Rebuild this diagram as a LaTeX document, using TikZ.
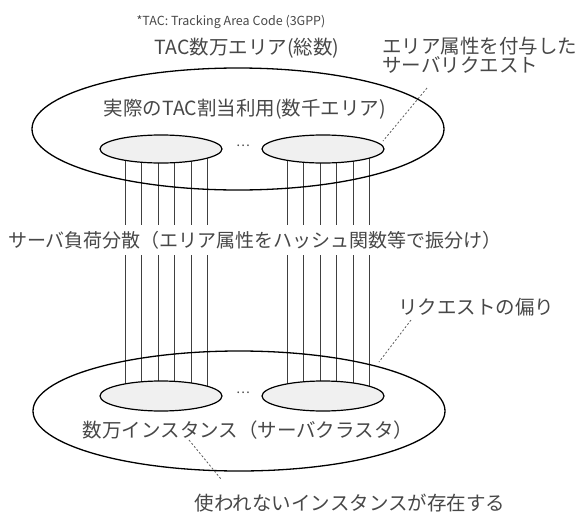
\documentclass[tikz,border=0pt]{standalone}
\usepackage{fontspec}
\setmainfont{Noto Sans CJK JP}
\usetikzlibrary{shapes.geometric,backgrounds}
\begin{document}
\begin{tikzpicture}[x=1pt,y=-1pt,
  big/.style={ellipse, draw=black, line width=1.3pt, inner sep=0pt, minimum width=412pt, minimum height=122pt},
  small/.style={ellipse, draw=black, line width=1.2pt, fill=black!6, inner sep=0pt, minimum width=122pt, minimum height=28pt},
  vline/.style={draw=black!75, line width=0.7pt},
  lead/.style={draw=black!65, line width=0.8pt, dash pattern=on 2pt off 2pt},
  lbl/.style={text=black!72, font=\fontsize{19.5}{18.5}\selectfont, inner sep=0pt, align=left},
]
\useasboundingbox (0,0) rectangle (582,520);
% big ellipses
\node[big] (topA) at (238,129) {};
\node[big, minimum height=120pt] (botA) at (239,411) {};
% small ellipses
\node[small] (tl) at (161,149) {};
\node[small] (tr) at (323,149) {};
\node[small, minimum height=30pt] (bl) at (161,396) {};
\node[small, minimum height=30pt] (br) at (323,396) {};
\coordinate (gapT) at (0,225);
\coordinate (gapB) at (0,255);
\begin{scope}[on background layer]
\foreach \n/\m in {tl/bl,tr/br}{
  \foreach \d in {-36,-19.5,-3,13.5,30,46.5}{
    \draw[vline] ([xshift=\d pt]\n.center) -- ([xshift=\d pt]\n.center |- gapT);
    \draw[vline] ([xshift=\d pt]\m.center |- gapB) -- ([xshift=\d pt]\m.center);
  }
}
\end{scope}
\node[text=black!72, font=\fontsize{13}{13}\selectfont, inner sep=0pt] (tdots) at (243,146) {…};
\node[text=black!72, font=\fontsize{13}{13}\selectfont, inner sep=0pt] (bdots) at (243,393) {…};
% texts
\node[text=black!72, font=\fontsize{12.5}{14}\selectfont, inner sep=0pt] (note) at (231,22) {*TAC: Tracking Area Code (3GPP)};
\node[lbl] (total) at (247,48) {TAC数万エリア(総数)};
\node[lbl, anchor=west] (req) at (382,55) {エリア属性を付与した\\サーバリクエスト};
\node[lbl] (used) at (245,109) {実際のTAC割当利用(数千エリア)};
\node[lbl, font=\fontsize{19}{19}\selectfont] (lb) at (255,240) {サーバ負荷分散（エリア属性をハッシュ関数等で振分け）};
\node[lbl] (skew) at (476,307) {リクエストの偏り};
\node[lbl] (inst) at (248,430) {数万インスタンス（サーバクラスタ）};
\node[lbl] (unused) at (350,503) {使われないインスタンスが存在する};
% leaders
\coordinate (d1a) at (427,88);
\coordinate (d1b) at (383,141);
\draw[lead] (d1a) -- (d1b);
\coordinate (d2a) at (411,320);
\coordinate (d2b) at (379,362);
\draw[lead] (d2a) -- (d2b);
\coordinate (d3a) at (189,440);
\coordinate (d3b) at (221,479);
\draw[lead] (d3a) -- (d3b);
\end{tikzpicture}
\end{document}
